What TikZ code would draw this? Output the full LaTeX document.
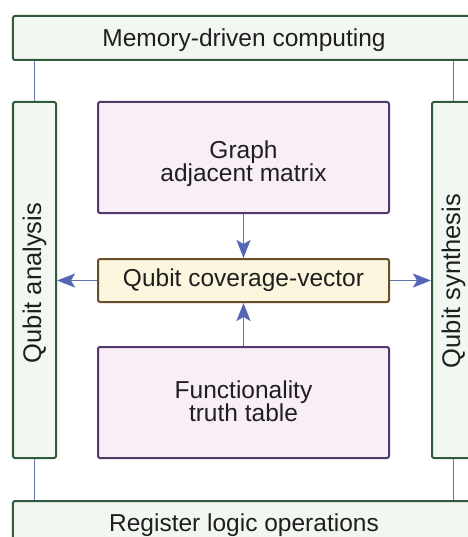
\documentclass[tikz,border=0pt]{standalone}
\usepackage{fontspec}
\setmainfont{Liberation Sans}
\usetikzlibrary{arrows.meta}
\definecolor{frameGreen}{HTML}{2F5B3B}
\definecolor{fillGreen}{HTML}{F3F7F1}
\definecolor{framePurple}{HTML}{52396B}
\definecolor{fillPurple}{HTML}{F9EEF8}
\definecolor{frameBrown}{HTML}{6B4F2A}
\definecolor{fillCream}{HTML}{FCF6DE}
\definecolor{linkBlue}{HTML}{6474A8}
\definecolor{headBlue}{HTML}{5566B5}
\begin{document}
\begin{tikzpicture}[x=1bp,y=-1bp,
  every node/.style={font=\fontsize{24.5bp}{23.5bp}\selectfont, text=black!88, inner sep=0pt, align=center},
  sidetext/.style={rotate=90, font=\fontsize{25.5bp}{25.5bp}\selectfont},
  layer/.style={draw=frameGreen, fill=fillGreen, line width=2bp, rounded corners=2bp},
  source/.style={draw=framePurple, fill=fillPurple, line width=2bp, rounded corners=2bp},
  core/.style={draw=frameBrown, fill=fillCream, line width=2bp, rounded corners=2bp},
  link/.style={draw=linkBlue, line width=1.8bp},
  flow/.style={link, -{Stealth[length=18bp, width=14bp, inset=4bp, color=headBlue]}}
]
\useasboundingbox (0,0) rectangle (468,537);

% outer frame of layers
\node[layer, minimum width=462bp, minimum height=44bp] (mem) at (244,38) {};
\node (memText) at ([yshift=-2.5bp]mem.center) {Memory-driven computing};
\node[layer, minimum width=462bp, minimum height=44bp] (reg) at (244,523) {};
\node (regText) at ([yshift=-2.5bp]reg.center) {Register logic operations};
\node[layer, minimum width=43bp, minimum height=356bp] (ana) at (34.5,280) {};
\node[sidetext] (anaText) at ([yshift=-3bp]ana.center) {Qubit analysis};
\node[layer, minimum width=43bp, minimum height=356bp] (syn) at (453.5,280) {};
\node[sidetext] (synText) at ([yshift=-1bp]syn.center) {Qubit synthesis};

% inner blocks
\node[source, minimum width=291bp, minimum height=111bp] (graph) at (243.5,157.5) {};
\node (graphText) at ([yshift=-6bp]graph.center) {Graph\\adjacent matrix};
\node[core, minimum width=291bp, minimum height=43bp] (cov) at (243.5,280.5) {Qubit coverage-vector};
\node[source, minimum width=291bp, minimum height=111bp] (func) at (243.5,402.5) {};
\node (funcText) at ([yshift=1.5bp]func.center) {Functionality\\truth table};

% links between layers
\draw[link] (mem.south -| ana.north) -- (ana.north);
\draw[link] (mem.south -| syn.north) -- (syn.north);
\draw[link] (ana.south) -- (reg.north -| ana.south);
\draw[link] (syn.south) -- (reg.north -| syn.south);

% data flow
\draw[flow] (graph.south) -- (cov.north);
\draw[flow] (func.north) -- (cov.south);
\draw[flow] (cov.west) -- (ana.east |- cov.west);
\draw[flow] (cov.east) -- (syn.west |- cov.east);
\end{tikzpicture}
\end{document}
